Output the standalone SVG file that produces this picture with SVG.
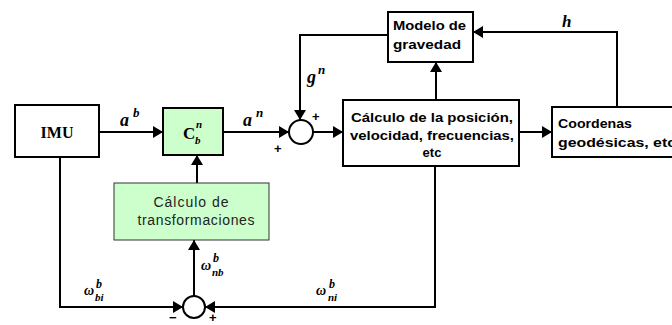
<svg xmlns="http://www.w3.org/2000/svg" width="672" height="325" viewBox="0 0 672 325">
<style>
.box{fill:#fff;stroke:#000;stroke-width:2}
.gbox{fill:#ccffcc;stroke:#000;stroke-width:2}
.tbox{fill:#ccffcc;stroke:#333;stroke-width:1}
.ln{fill:none;stroke:#000;stroke-width:2}
.t{font-family:"Liberation Sans",Arial,sans-serif;font-size:13px;font-weight:bold;fill:#000}
.tn{font-family:"Liberation Sans",Arial,sans-serif;font-size:14px;fill:#222}
.m{font-family:"Liberation Serif","Times New Roman",serif;font-style:italic;font-weight:bold;fill:#000}
.s{font-family:"Liberation Sans",Arial,sans-serif;font-weight:bold;font-size:13px;fill:#000}
</style>
<defs>
<marker id="ah" markerUnits="userSpaceOnUse" markerWidth="10" markerHeight="12" refX="10" refY="6" orient="auto">
<path d="M0,0 L10,6 L0,12 z" fill="#000"/>
</marker>
</defs>
<rect width="672" height="325" fill="#fff"/>
<g id="connectors">
<path class="ln" d="M99,132 H163" marker-end="url(#ah)"/>
<path class="ln" d="M223,132 H289" marker-end="url(#ah)"/>
<path class="ln" d="M388,35 H300 V120" marker-end="url(#ah)"/>
<path class="ln" d="M313,132 H343" marker-end="url(#ah)"/>
<path class="ln" d="M436,100 V62" marker-end="url(#ah)"/>
<path class="ln" d="M519,132 H552" marker-end="url(#ah)"/>
<path class="ln" d="M617,107 V32 H473" marker-end="url(#ah)"/>
<path class="ln" d="M435,166 V307 H205" marker-end="url(#ah)"/>
<path class="ln" d="M60,157 V307 H183" marker-end="url(#ah)"/>
<path class="ln" d="M194,296 V240" marker-end="url(#ah)"/>
<path class="ln" d="M197,183 V155" marker-end="url(#ah)"/>
</g>
<g id="imu">
<rect class="box" x="15" y="105" width="84" height="52"/>
<text x="57" y="138" text-anchor="middle" font-family="Liberation Serif,serif" font-weight="bold" font-size="16">IMU</text>
</g>
<g id="cbn">
<rect class="gbox" x="163" y="108" width="60" height="47"/>
<text x="183" y="139" font-family="Liberation Serif,serif" font-weight="bold" font-size="17">C</text>
<text x="196" y="128" class="m" font-size="11">n</text>
<text x="195" y="144" class="m" font-size="11">b</text>
</g>
<g id="sum1">
<circle cx="301" cy="132" r="12" fill="#fff" stroke="#000" stroke-width="2"/>
<text x="312" y="121" class="s">+</text>
<text x="274" y="153" class="s">+</text>
</g>
<g id="modelo">
<rect class="box" x="388" y="12" width="85" height="50"/>
<text x="393" y="30" class="t" textLength="73" lengthAdjust="spacingAndGlyphs">Modelo de</text>
<text x="393" y="49" class="t" textLength="68" lengthAdjust="spacingAndGlyphs">gravedad</text>
</g>
<g id="calculo">
<rect class="box" x="343" y="100" width="176" height="66"/>
<text x="432" y="122" text-anchor="middle" class="t" textLength="162" lengthAdjust="spacingAndGlyphs">Cálculo de la posición,</text>
<text x="432" y="140" text-anchor="middle" class="t" textLength="164" lengthAdjust="spacingAndGlyphs">velocidad, frecuencias,</text>
<text x="432" y="157" text-anchor="middle" class="t">etc</text>
</g>
<g id="coordenadas">
<rect class="box" x="552" y="107" width="130" height="50"/>
<text x="558" y="128" class="t" textLength="74" lengthAdjust="spacingAndGlyphs">Coordenas</text>
<text x="558" y="147" class="t" textLength="118" lengthAdjust="spacingAndGlyphs">geodésicas, etc</text>
</g>
<g id="transformaciones">
<rect class="tbox" x="114" y="183" width="155" height="57"/>
<text x="191" y="207" text-anchor="middle" class="tn" textLength="75" lengthAdjust="spacing">Cálculo de</text>
<text x="196" y="225" text-anchor="middle" class="tn" textLength="117" lengthAdjust="spacing">transformaciones</text>
</g>
<g id="sum2">
<circle cx="194" cy="307" r="11" fill="#fff" stroke="#000" stroke-width="2"/>
<text x="169" y="322" class="s" font-size="12">−</text>
<text x="209" y="322" class="s" font-size="12">+</text>
</g>
<g id="labels">
<text x="120" y="126" class="m" font-size="18">a</text>
<text x="133" y="117" class="m" font-size="13">b</text>
<text x="243" y="126" class="m" font-size="18">a</text>
<text x="256" y="117" class="m" font-size="13">n</text>
<text x="307" y="83" class="m" font-size="18">g</text>
<text x="318" y="74" class="m" font-size="13">n</text>
<text x="562" y="27" class="m" font-size="17">h</text>
<text x="201" y="270" class="m" font-size="14" font-style="normal">ω</text>
<text x="213" y="262" class="m" font-size="12">b</text>
<text x="212" y="276" class="m" font-size="11">nb</text>
<text x="84" y="295" class="m" font-size="14" font-style="normal">ω</text>
<text x="96" y="288" class="m" font-size="12">b</text>
<text x="95" y="301" class="m" font-size="11">bi</text>
<text x="316" y="295" class="m" font-size="14" font-style="normal">ω</text>
<text x="329" y="288" class="m" font-size="12">b</text>
<text x="328" y="301" class="m" font-size="11">ni</text>
</g>
</svg>
